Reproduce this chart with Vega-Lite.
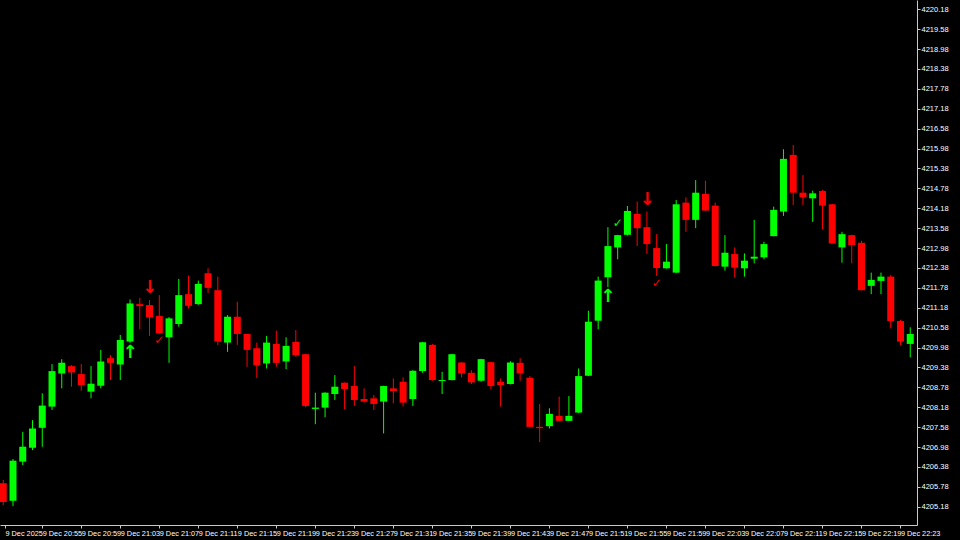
{
  "$schema": "https://vega.github.io/schema/vega-lite/v6.json",
  "width": 917,
  "height": 525,
  "autosize": {"type": "none"},
  "padding": {"left": 0, "top": 0, "right": 43, "bottom": 15},
  "background": "#000000",
  "config": {
    "view": {"stroke": null},
    "axis": {
      "grid": false,
      "labelOverlap": false,
      "labelFlush": false,
      "labelBound": false,
      "labelFont": "Liberation Sans",
      "labelColor": "#ffffff",
      "tickColor": "#c8c8c8",
      "domainColor": "#c8c8c8",
      "tickSize": 3,
      "labelPadding": 1,
      "tickCount": 200
    }
  },
  "datasets": {
    "candles": [
      {"t":1251,"o":4205.89,"h":4205.99,"l":4205.23,"c":4205.32},
      {"t":1252,"o":4205.36,"h":4206.62,"l":4205.20,"c":4206.57},
      {"t":1253,"o":4206.54,"h":4207.44,"l":4206.44,"c":4206.99},
      {"t":1254,"o":4206.96,"h":4207.79,"l":4206.89,"c":4207.54},
      {"t":1255,"o":4207.56,"h":4208.60,"l":4206.99,"c":4208.23},
      {"t":1256,"o":4208.20,"h":4209.48,"l":4208.10,"c":4209.27},
      {"t":1257,"o":4209.20,"h":4209.63,"l":4208.75,"c":4209.52},
      {"t":1258,"o":4209.42,"h":4209.45,"l":4208.80,"c":4209.23},
      {"t":1259,"o":4209.18,"h":4209.48,"l":4208.68,"c":4208.85},
      {"t":1260,"o":4208.65,"h":4209.42,"l":4208.45,"c":4208.89},
      {"t":1261,"o":4208.83,"h":4209.91,"l":4208.75,"c":4209.56},
      {"t":1262,"o":4209.66,"h":4209.75,"l":4209.00,"c":4209.52},
      {"t":1263,"o":4209.47,"h":4210.36,"l":4209.00,"c":4210.21},
      {"t":1264,"o":4210.16,"h":4211.43,"l":4210.12,"c":4211.31},
      {"t":1265,"o":4211.29,"h":4211.48,"l":4210.53,"c":4211.23},
      {"t":1266,"o":4211.26,"h":4211.41,"l":4210.33,"c":4210.89},
      {"t":1267,"o":4210.93,"h":4211.56,"l":4210.39,"c":4210.41},
      {"t":1268,"o":4210.29,"h":4210.90,"l":4209.52,"c":4210.86},
      {"t":1269,"o":4210.69,"h":4212.05,"l":4210.61,"c":4211.56},
      {"t":1270,"o":4211.59,"h":4212.15,"l":4211.16,"c":4211.24},
      {"t":1271,"o":4211.29,"h":4212.00,"l":4211.27,"c":4211.90},
      {"t":1272,"o":4212.22,"h":4212.37,"l":4211.63,"c":4211.78},
      {"t":1273,"o":4211.71,"h":4212.12,"l":4210.06,"c":4210.16},
      {"t":1274,"o":4210.13,"h":4210.96,"l":4209.85,"c":4210.91},
      {"t":1275,"o":4210.91,"h":4211.36,"l":4210.06,"c":4210.39},
      {"t":1276,"o":4210.39,"h":4210.40,"l":4209.40,"c":4209.91},
      {"t":1277,"o":4209.96,"h":4210.13,"l":4209.06,"c":4209.45},
      {"t":1278,"o":4209.50,"h":4210.33,"l":4209.35,"c":4210.13},
      {"t":1279,"o":4210.09,"h":4210.49,"l":4209.40,"c":4209.52},
      {"t":1280,"o":4209.56,"h":4210.29,"l":4209.33,"c":4210.03},
      {"t":1281,"o":4210.15,"h":4210.51,"l":4209.70,"c":4209.75},
      {"t":1282,"o":4209.78,"h":4209.79,"l":4208.18,"c":4208.22},
      {"t":1283,"o":4208.13,"h":4208.62,"l":4207.67,"c":4208.17},
      {"t":1284,"o":4208.17,"h":4208.63,"l":4207.88,"c":4208.62},
      {"t":1285,"o":4208.58,"h":4209.15,"l":4208.40,"c":4208.80},
      {"t":1286,"o":4208.92,"h":4208.93,"l":4208.12,"c":4208.73},
      {"t":1287,"o":4208.82,"h":4209.42,"l":4208.22,"c":4208.40},
      {"t":1288,"o":4208.43,"h":4208.75,"l":4208.32,"c":4208.35},
      {"t":1289,"o":4208.45,"h":4208.55,"l":4208.10,"c":4208.28},
      {"t":1290,"o":4208.35,"h":4208.83,"l":4207.39,"c":4208.82},
      {"t":1291,"o":4208.75,"h":4209.05,"l":4208.30,"c":4208.67},
      {"t":1292,"o":4208.95,"h":4209.08,"l":4208.20,"c":4208.32},
      {"t":1293,"o":4208.43,"h":4209.30,"l":4208.22,"c":4209.28},
      {"t":1294,"o":4209.27,"h":4210.15,"l":4209.22,"c":4210.14},
      {"t":1295,"o":4210.06,"h":4210.09,"l":4208.98,"c":4209.00},
      {"t":1296,"o":4208.97,"h":4209.25,"l":4208.58,"c":4209.00},
      {"t":1297,"o":4209.00,"h":4209.79,"l":4208.99,"c":4209.78},
      {"t":1298,"o":4209.53,"h":4209.54,"l":4209.08,"c":4209.20},
      {"t":1299,"o":4209.22,"h":4209.30,"l":4208.88,"c":4208.93},
      {"t":1300,"o":4208.98,"h":4209.64,"l":4208.95,"c":4209.63},
      {"t":1301,"o":4209.54,"h":4209.55,"l":4208.72,"c":4208.82},
      {"t":1302,"o":4208.95,"h":4209.05,"l":4208.20,"c":4208.85},
      {"t":1303,"o":4208.88,"h":4209.57,"l":4208.87,"c":4209.53},
      {"t":1304,"o":4209.52,"h":4209.66,"l":4208.98,"c":4209.20},
      {"t":1305,"o":4209.07,"h":4209.12,"l":4207.58,"c":4207.59},
      {"t":1306,"o":4207.59,"h":4208.28,"l":4207.13,"c":4207.55},
      {"t":1307,"o":4207.61,"h":4208.15,"l":4207.54,"c":4207.98},
      {"t":1308,"o":4207.92,"h":4208.50,"l":4207.76,"c":4207.77},
      {"t":1309,"o":4207.77,"h":4208.52,"l":4207.76,"c":4207.92},
      {"t":1310,"o":4208.02,"h":4209.35,"l":4208.01,"c":4209.12},
      {"t":1311,"o":4209.13,"h":4211.09,"l":4209.12,"c":4210.76},
      {"t":1312,"o":4210.79,"h":4212.12,"l":4210.53,"c":4212.00},
      {"t":1313,"o":4212.10,"h":4213.61,"l":4211.80,"c":4213.04},
      {"t":1314,"o":4213.00,"h":4213.38,"l":4212.64,"c":4213.37},
      {"t":1315,"o":4213.38,"h":4214.25,"l":4213.36,"c":4214.10},
      {"t":1316,"o":4214.01,"h":4214.38,"l":4213.04,"c":4213.58},
      {"t":1317,"o":4213.61,"h":4214.08,"l":4212.80,"c":4213.10},
      {"t":1318,"o":4212.98,"h":4213.40,"l":4212.14,"c":4212.38},
      {"t":1319,"o":4212.37,"h":4213.10,"l":4212.36,"c":4212.57},
      {"t":1320,"o":4212.24,"h":4214.43,"l":4212.23,"c":4214.30},
      {"t":1321,"o":4214.35,"h":4214.51,"l":4213.47,"c":4213.83},
      {"t":1322,"o":4213.83,"h":4215.03,"l":4213.58,"c":4214.65},
      {"t":1323,"o":4214.61,"h":4215.01,"l":4214.10,"c":4214.11},
      {"t":1324,"o":4214.26,"h":4214.35,"l":4212.43,"c":4212.44},
      {"t":1325,"o":4212.42,"h":4213.37,"l":4212.30,"c":4212.84},
      {"t":1326,"o":4212.80,"h":4213.00,"l":4212.10,"c":4212.39},
      {"t":1327,"o":4212.37,"h":4212.82,"l":4212.12,"c":4212.60},
      {"t":1328,"o":4212.66,"h":4213.83,"l":4212.52,"c":4212.72},
      {"t":1329,"o":4212.70,"h":4213.17,"l":4212.64,"c":4213.10},
      {"t":1330,"o":4213.34,"h":4214.23,"l":4213.33,"c":4214.13},
      {"t":1331,"o":4214.08,"h":4215.96,"l":4213.95,"c":4215.67},
      {"t":1332,"o":4215.79,"h":4216.09,"l":4214.28,"c":4214.65},
      {"t":1333,"o":4214.65,"h":4215.18,"l":4214.28,"c":4214.51},
      {"t":1334,"o":4214.48,"h":4214.71,"l":4213.77,"c":4214.63},
      {"t":1335,"o":4214.70,"h":4214.73,"l":4213.55,"c":4214.26},
      {"t":1336,"o":4214.30,"h":4214.31,"l":4213.11,"c":4213.12},
      {"t":1337,"o":4213.00,"h":4213.47,"l":4212.54,"c":4213.40},
      {"t":1338,"o":4213.37,"h":4213.38,"l":4212.52,"c":4213.07},
      {"t":1339,"o":4213.14,"h":4213.20,"l":4211.70,"c":4211.71},
      {"t":1340,"o":4211.84,"h":4212.24,"l":4211.59,"c":4212.02},
      {"t":1341,"o":4211.99,"h":4212.24,"l":4211.59,"c":4212.12},
      {"t":1342,"o":4212.12,"h":4212.17,"l":4210.56,"c":4210.78},
      {"t":1343,"o":4210.78,"h":4210.81,"l":4210.06,"c":4210.16},
      {"t":1344,"o":4210.09,"h":4210.59,"l":4209.69,"c":4210.39}
    ],
    "signals": [
      {"t":1264,"p":4209.81,"sym":"↑","side":"buy","kind":"arrow"},
      {"t":1266,"p":4211.77,"sym":"↓","side":"sell","kind":"arrow"},
      {"t":1267,"p":4210.21,"sym":"✓","side":"sell","kind":"check"},
      {"t":1313,"p":4211.50,"sym":"↑","side":"buy","kind":"arrow"},
      {"t":1314,"p":4213.73,"sym":"✓","side":"buy","kind":"check"},
      {"t":1317,"p":4214.43,"sym":"↓","side":"sell","kind":"arrow"},
      {"t":1318,"p":4211.93,"sym":"✓","side":"sell","kind":"check"}
    ]
  },
  "layer": [
    {
      "data": {"name": "candles"},
      "mark": {"type": "rule", "clip": true, "strokeWidth": 1},
      "encoding": {
        "x": {
          "field": "t", "type": "quantitative",
          "scale": {"domain": [1251.18, 1344.18], "nice": false, "zero": false},
          "axis": {
            "title": null,
            "values": [1251.18,1255,1259,1263,1267,1271,1275,1279,1283,1287,1291,1295,1299,1303,1307,1311,1315,1319,1323,1327,1331,1335,1339,1343],
            "tickCount": 200,
            "labelExpr": "datum.value < 1252 ? '9 Dec 2025' : '9 Dec ' + floor(datum.value / 60) + ':' + (datum.value % 60 < 10 ? '0' : '') + (datum.value % 60)",
            "labelAlign": "left",
            "labelBaseline": "top",
            "labelOverlap": false,
            "labelFontSize": 7.3
          }
        },
        "y": {
          "field": "l", "type": "quantitative",
          "scale": {"domain": [4204.63, 4220.46], "nice": false, "zero": false},
          "axis": {
            "orient": "right",
            "title": null,
            "values": [4205.18,4205.78,4206.38,4206.98,4207.58,4208.18,4208.78,4209.38,4209.98,4210.58,4211.18,4211.78,4212.38,4212.98,4213.58,4214.18,4214.78,4215.38,4215.98,4216.58,4217.18,4217.78,4218.38,4218.98,4219.58,4220.18],
            "tickCount": 200,
            "format": ".2f",
            "labelOverlap": false,
            "labelFontSize": 7.5
          }
        },
        "y2": {"field": "h"},
        "color": {"condition": {"test": "datum.c >= datum.o", "value": "#00ff00"}, "value": "#ff0000"}
      }
    },
    {
      "data": {"name": "candles"},
      "mark": {"type": "bar", "clip": true, "size": 7, "orient": "vertical"},
      "encoding": {
        "x": {"field": "t", "type": "quantitative"},
        "y": {"field": "o", "type": "quantitative"},
        "y2": {"field": "c"},
        "color": {"condition": {"test": "datum.c >= datum.o", "value": "#00ff00"}, "value": "#ff0000"}
      }
    },
    {
      "data": {"name": "signals"},
      "mark": {"type": "text", "clip": true, "align": "center", "baseline": "middle", "fontWeight": "bold", "font": "DejaVu Sans"},
      "encoding": {
        "x": {"field": "t", "type": "quantitative"},
        "y": {"field": "p", "type": "quantitative"},
        "text": {"field": "sym"},
        "color": {"field": "side", "type": "nominal", "scale": {"domain": ["buy", "sell"], "range": ["#00ff00", "#ff0000"]}, "legend": null},
        "size": {"field": "kind", "type": "nominal", "scale": {"domain": ["arrow", "check"], "range": [18, 12]}, "legend": null}
      }
    }
  ]
}
